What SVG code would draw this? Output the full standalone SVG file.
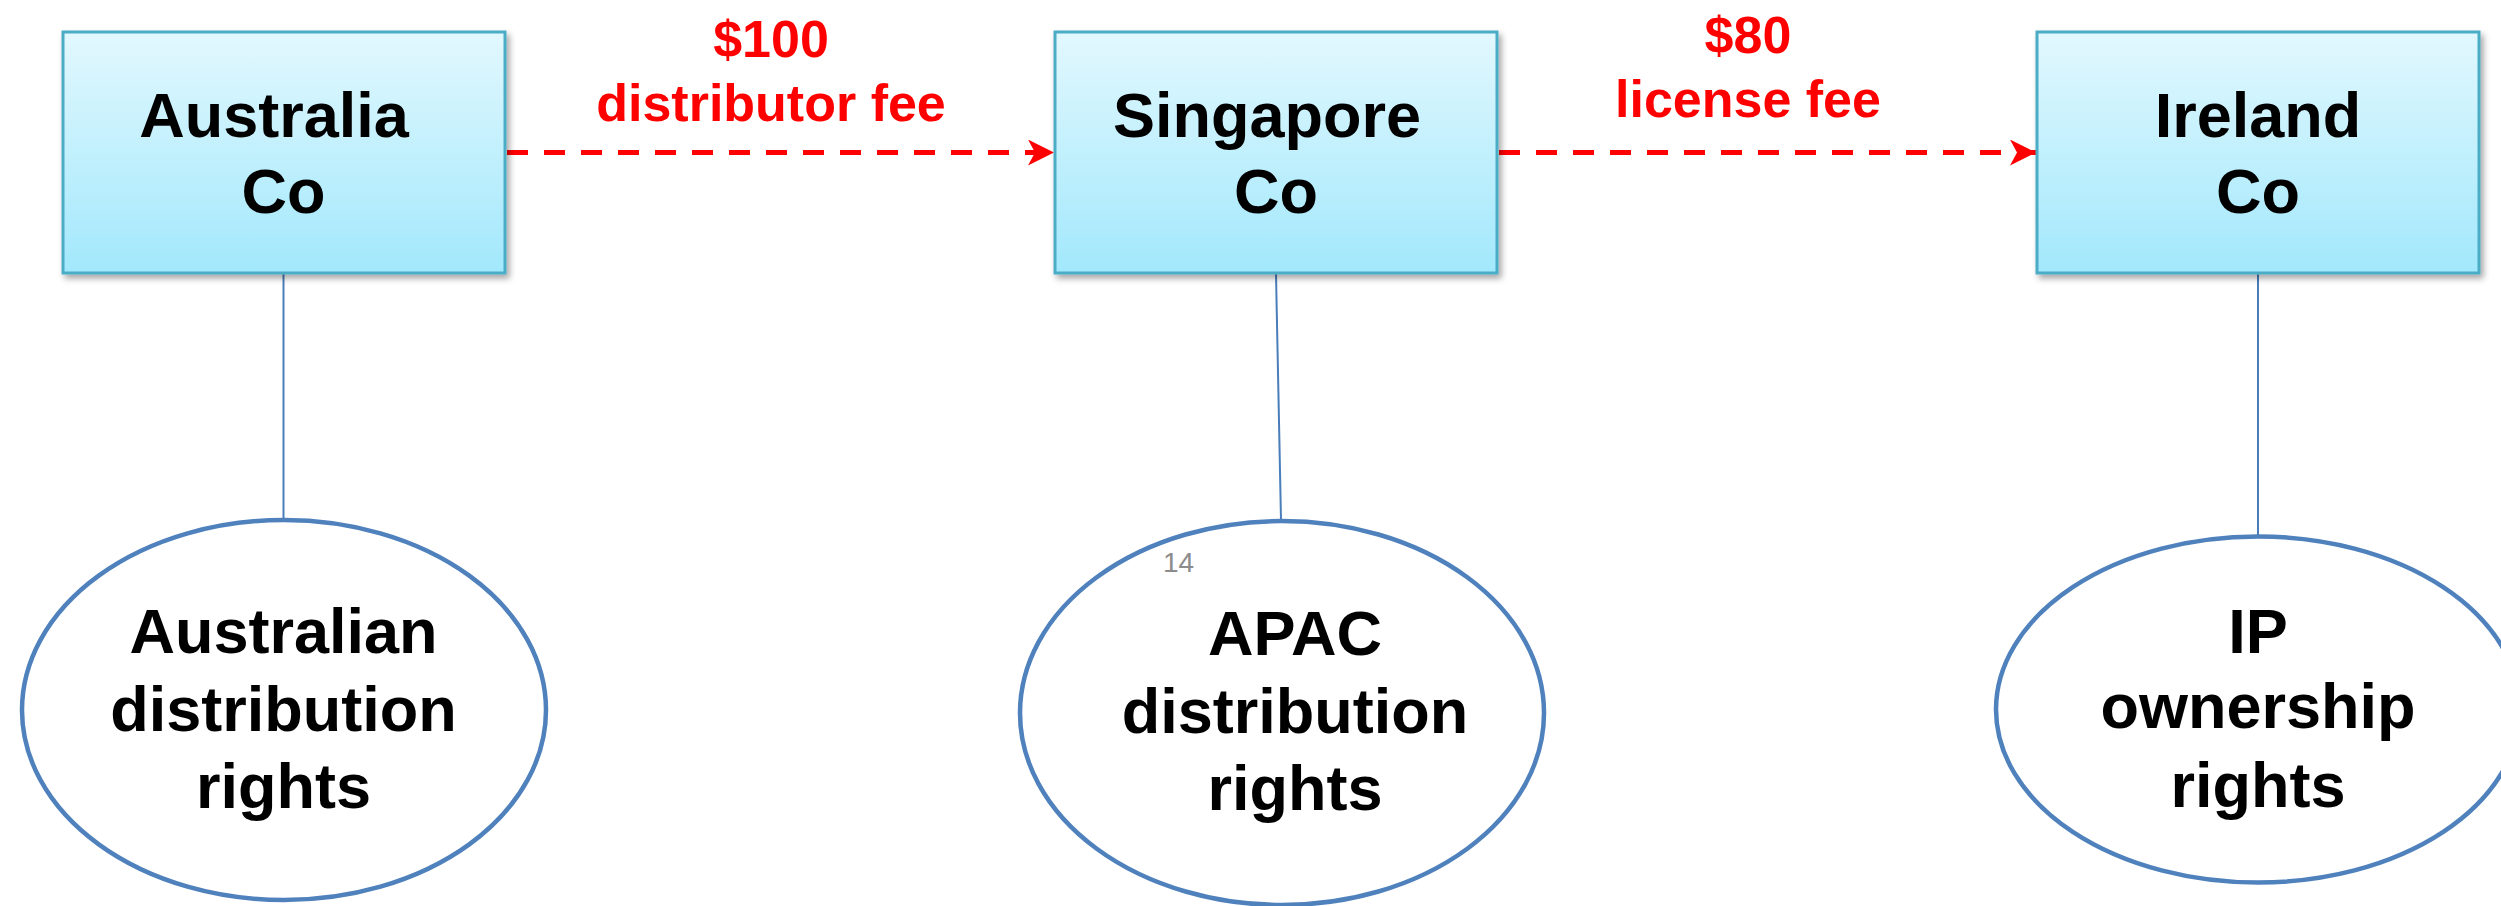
<svg xmlns="http://www.w3.org/2000/svg" width="2501" height="906" viewBox="0 0 2501 906">
  <defs>
    <linearGradient id="boxFill" x1="0" y1="0" x2="0" y2="1">
      <stop offset="0" stop-color="#e2f8fe"/>
      <stop offset="1" stop-color="#a2e8fc"/>
    </linearGradient>
    <filter id="shadow" x="-10%" y="-10%" width="125%" height="130%">
      <feDropShadow dx="3" dy="4" stdDeviation="3" flood-color="#000" flood-opacity="0.35"/>
    </filter>
    <marker id="arrow" viewBox="0 0 26 26" refX="26" refY="13" markerWidth="26" markerHeight="26" markerUnits="userSpaceOnUse" orient="auto">
      <path d="M0,0 L26,13 L0,26 L7,13 Z" fill="#ff0000"/>
    </marker>
  </defs>
  <style>
    .box { fill: url(#boxFill); stroke: #4bacc6; stroke-width: 3; filter: url(#shadow); }
    .oval { fill: #ffffff; stroke: #4f81bd; stroke-width: 4.5; }
    .link { stroke: #4a7ebb; stroke-width: 2; fill: none; }
    .flow { stroke: #ff0000; stroke-width: 5; stroke-dasharray: 21 16; fill: none; }
    .name { font-family: "Liberation Sans", Arial, sans-serif; font-weight: bold; font-size: 63px; fill: #000000; text-anchor: middle; }
    .fee { font-family: "Liberation Sans", Arial, sans-serif; font-weight: bold; font-size: 52px; fill: #ff0000; text-anchor: middle; }
    .page { font-family: "Liberation Sans", Arial, sans-serif; font-size: 28px; fill: #8c8c8c; }
  </style>

  <rect width="2501" height="906" fill="#ffffff"/>

  <!-- connectors -->
  <g id="connectors">
    <line class="link" x1="283.5" y1="274" x2="283.5" y2="520"/>
    <line class="link" x1="1276" y1="274" x2="1281" y2="520"/>
    <line class="link" x1="2258" y1="274" x2="2258" y2="537"/>
    <line class="flow" x1="507" y1="152.5" x2="1054" y2="152.5" marker-end="url(#arrow)"/>
    <line class="flow" x1="1499" y1="152.5" x2="2036" y2="152.5" marker-end="url(#arrow)"/>
  </g>

  <!-- payment labels -->
  <g id="label-distributor-fee">
    <text class="fee" x="771" y="57">$100</text>
    <text class="fee" x="771" y="121">distributor fee</text>
  </g>
  <g id="label-license-fee">
    <text class="fee" x="1748" y="53">$80</text>
    <text class="fee" x="1748" y="117">license fee</text>
  </g>

  <!-- companies -->
  <g id="australia-co">
    <rect class="box" x="63" y="32" width="442" height="241"/>
    <text class="name" x="274" y="137">Australia</text>
    <text class="name" x="283.5" y="213">Co</text>
  </g>
  <g id="singapore-co">
    <rect class="box" x="1055" y="32" width="442" height="241"/>
    <text class="name" x="1267" y="137">Singapore</text>
    <text class="name" x="1276" y="213">Co</text>
  </g>
  <g id="ireland-co">
    <rect class="box" x="2037" y="32" width="442" height="241"/>
    <text class="name" x="2258" y="137">Ireland</text>
    <text class="name" x="2258" y="213">Co</text>
  </g>

  <!-- rights held -->
  <g id="australian-rights">
    <ellipse class="oval" cx="284" cy="710" rx="262" ry="190"/>
    <text class="name" x="283.5" y="653">Australian</text>
    <text class="name" x="283.5" y="731">distribution</text>
    <text class="name" x="283.5" y="808">rights</text>
  </g>
  <g id="apac-rights">
    <ellipse class="oval" cx="1282" cy="713" rx="262" ry="192"/>
    <text class="page" x="1163" y="572">14</text>
    <text class="name" x="1295" y="655">APAC</text>
    <text class="name" x="1295" y="733">distribution</text>
    <text class="name" x="1295" y="810">rights</text>
  </g>
  <g id="ip-rights">
    <ellipse class="oval" cx="2258" cy="709.5" rx="262" ry="173"/>
    <text class="name" x="2258" y="652.5">IP</text>
    <text class="name" x="2258" y="728">ownership</text>
    <text class="name" x="2258" y="806.5">rights</text>
  </g>
</svg>
